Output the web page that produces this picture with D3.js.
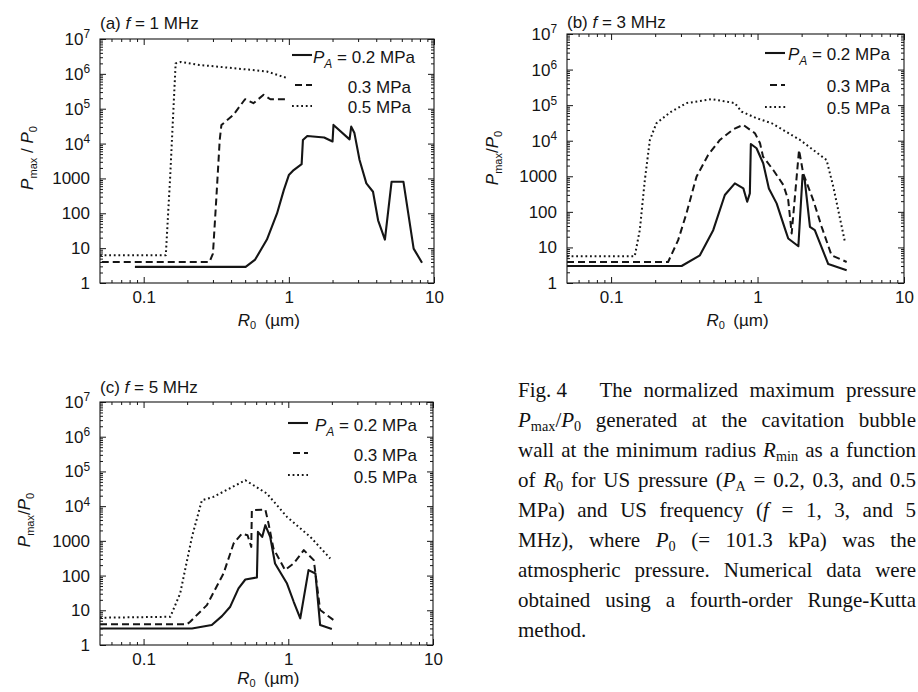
<!DOCTYPE html>
<html>
<head>
<meta charset="utf-8">
<script src="https://cdn.jsdelivr.net/npm/d3@7"></script>
<style>
  html, body { margin: 0; padding: 0; background: #fff; }
  svg { display: block; }
</style>
</head>
<body>
<svg id="fig" width="918" height="692"></svg>
<script>
// ---- data ---------------------------------------------------------------
const xTickValues = [0.1, 1, 10];
const yTickValues = [1, 10, 100, 1000, 1e4, 1e5, 1e6, 1e7];
const pressureLabels = ["0.2 MPa", "0.3 MPa", "0.5 MPa"];
const frequencies = ["1", "3", "5"];
const panelLetters = ["a", "b", "c"];

// [R0 (µm), Pmax/P0] — f = 1 MHz
const f1_pa02 = [[0.087,2.9],[0.504,2.9],[0.586,4.7],[0.706,17.6],[0.829,99],[0.923,463],[1.0,1250],[1.08,1740],[1.225,2580],[1.25,12600],[1.34,16500],[1.75,15000],[2.0,11500],[2.03,34300],[2.62,13200],[2.69,30700],[2.83,20000],[3.07,3370],[3.42,720],[3.8,415],[4.12,63],[4.59,17.6],[5.1,800],[6.16,800],[7.24,9.7],[8.27,3.8]];
const f1_pa03 = [[0.0514,4.0],[0.284,4.0],[0.30,7],[0.316,239],[0.334,12700],[0.343,34000],[0.414,66000],[0.499,187000],[0.57,144000],[0.67,250000],[0.745,187000],[0.97,187000]];
const f1_pa05 = [[0.05,6.25],[0.142,6.25],[0.152,1000],[0.166,2.0e6],[0.18,2.2e6],[0.242,1.8e6],[0.414,1.46e6],[0.706,1.17e6],[0.97,7.6e5]];

// f = 3 MHz
const f3_pa02 = [[0.05,3.0],[0.303,3.0],[0.404,6.0],[0.498,30.5],[0.598,297],[0.70,630],[0.80,457],[0.85,192],[0.886,330],[0.90,8100],[0.984,6150],[1.093,2320],[1.195,456],[1.35,173],[1.55,30.5],[1.62,17.8],[1.9,10.8],[2.03,1090],[2.1,785],[2.28,38],[2.46,30.5],[3.04,3.4],[4.06,2.3]];
const f3_pa03 = [[0.05,3.9],[0.245,3.9],[0.287,16],[0.327,90],[0.383,975],[0.46,3990],[0.553,10500],[0.683,21000],[0.798,27900],[0.96,16200],[1.04,8500],[1.09,3570],[1.28,1500],[1.5,570],[1.62,215],[1.71,24.6],[1.92,5500],[2.05,1210],[2.4,215],[2.74,38],[3.2,6.0],[4.06,3.9]];
const f3_pa05 = [[0.05,5.65],[0.145,5.65],[0.157,30.5],[0.17,785],[0.184,10500],[0.204,31000],[0.252,62000],[0.327,114000],[0.485,147000],[0.7,114000],[0.777,66000],[0.984,43000],[1.25,31000],[1.95,10500],[2.96,2870],[3.29,510],[3.95,14.3]];

// f = 5 MHz
const f5_pa02 = [[0.05,3.0],[0.216,3.0],[0.296,3.76],[0.348,6.8],[0.397,12.7],[0.453,42.7],[0.505,77],[0.607,88],[0.617,1820],[0.66,1300],[0.694,2830],[0.75,1300],[0.81,223],[0.98,59],[1.09,17.6],[1.21,5.85],[1.38,144],[1.54,115],[1.66,3.76],[2.0,2.9]];
const f5_pa03 = [[0.05,3.93],[0.199,3.93],[0.21,4.7],[0.274,14.1],[0.357,115],[0.419,840],[0.478,1620],[0.523,1450],[0.555,670],[0.56,7600],[0.694,8000],[0.73,3170],[0.79,600],[0.95,144],[1.09,223],[1.28,540],[1.5,279],[1.66,10.2],[2.06,5.2]];
const f5_pa05 = [[0.05,6.1],[0.153,6.5],[0.179,30.6],[0.216,1300],[0.253,14800],[0.304,18500],[0.505,55700],[0.712,23000],[0.98,4900],[1.42,1300],[1.95,310]];

// caption: *x* = italic, _{x} = subscript, "|" joins words without a break
const captionLines = [
  "Fig.\u00a04\u2003 The normalized maximum pressure",
  "*P*_{max}/*P*_{0} generated at the cavitation bubble",
  "wall at the minimum radius *R*_{min} as a function",
  "of *R*_{0} for US pressure (*P*_{A} = 0.2, 0.3, and 0.5",
  "MPa) and US frequency (*f* = 1, 3, and 5",
  "MHz), where *P*_{0} (= 101.3 kPa) was the",
  "atmospheric pressure. Numerical data were",
  "obtained using a fourth-order Runge-Kutta",
  "method."
];

// ---- layout & styles ----------------------------------------------------
const SANS = "'Liberation Sans', Arial, sans-serif";
const SERIF = "'Liberation Serif', 'Times New Roman', serif";
const INK = "#151515";
const lineStyles = [
  { dash: null, width: 2.1 },
  { dash: "7,4", width: 2.0 },
  { dash: "1.8,2.8", width: 2.0 }
];

const panels = [
  { series: [f1_pa02, f1_pa03, f1_pa05], l: 100, r: 434, t: 39, b: 283,
    titleY: 29, ylab: { x: 27, y: 158, spaced: true }, xlabY: 326,
    leg: { solid: [292, 312], dash: [295, 312], dot: [292, 312], end: [415, 411, 411], lines: [55, 85, 106], base: [63, 93, 113] } },
  { series: [f3_pa02, f3_pa03, f3_pa05], l: 567, r: 904, t: 34, b: 283,
    titleY: 28, ylab: { x: 492, y: 158, spaced: false }, xlabY: 326,
    leg: { solid: [765, 785], dash: [770, 785], dot: [765, 787], end: [890, 890, 890], lines: [53, 85, 107], base: [60, 92, 114] } },
  { series: [f5_pa02, f5_pa03, f5_pa05], l: 100, r: 433, t: 402, b: 645,
    titleY: 393, ylab: { x: 24, y: 520, spaced: false }, xlabY: 684,
    leg: { solid: [288, 308], dash: [293, 308], dot: [288, 308], end: [417, 417, 417], lines: [423, 453, 475], base: [431, 461, 483] } }
];

const svg = d3.select("#fig");
svg.append("rect").attr("width", 918).attr("height", 692).attr("fill", "#fff");

// minor tick positions on log axes
function minorTicks(lo, hi) {
  const out = [];
  for (let e = Math.floor(Math.log10(lo)); e < Math.ceil(Math.log10(hi)); e++) {
    for (let m = 2; m <= 9; m++) {
      const v = m * Math.pow(10, e);
      if (v > lo * 1.0001 && v < hi * 0.9999) out.push(v);
    }
  }
  return out;
}

function styleAxis(sel) {
  sel.select(".domain").remove();
  sel.selectAll(".tick line").attr("stroke", INK).attr("stroke-width", 1);
  sel.attr("font-family", SANS).attr("font-size", 17).attr("fill", INK);
  sel.selectAll(".tick text").attr("fill", INK);
  return sel;
}

panels.forEach((p, i) => {
  const w = p.r - p.l, h = p.b - p.t;
  const g = svg.append("g").attr("transform", `translate(${p.l},${p.t})`);
  const x = d3.scaleLog().domain([0.05, 10]).range([0, w]);
  const y = d3.scaleLog().domain([1, 1e7]).range([h, 0]);

  // major ticks with labels (left & bottom), inward
  const left = g.append("g").call(
    d3.axisLeft(y).tickValues(yTickValues).tickSizeInner(-6).tickSizeOuter(0).tickPadding(10)
  );
  styleAxis(left);
  left.selectAll(".tick text").each(function (d) {
    const t = d3.select(this).text(null);
    const e = Math.round(Math.log10(d));
    if (e < 4) {
      t.text(String(d));
    } else {
      t.append("tspan").text("10");
      t.append("tspan").attr("dy", "-0.55em").attr("font-size", "0.7em").text(e);
    }
  });

  const bottom = g.append("g").attr("transform", `translate(0,${h})`).call(
    d3.axisBottom(x).tickValues(xTickValues).tickSizeInner(-6).tickSizeOuter(0).tickPadding(8)
      .tickFormat(d => String(d))
  );
  styleAxis(bottom);

  // mirrored major ticks on top & right
  styleAxis(g.append("g").call(
    d3.axisTop(x).tickValues(xTickValues).tickSizeInner(-6).tickSizeOuter(0).tickFormat("")));
  styleAxis(g.append("g").attr("transform", `translate(${w},0)`).call(
    d3.axisRight(y).tickValues(yTickValues).tickSizeInner(-6).tickSizeOuter(0).tickFormat("")));

  // minor ticks on all four sides
  const xm = minorTicks(0.05, 10), ym = minorTicks(1, 1e7);
  styleAxis(g.append("g").call(d3.axisLeft(y).tickValues(ym).tickSizeInner(-3).tickSizeOuter(0).tickFormat("")));
  styleAxis(g.append("g").attr("transform", `translate(${w},0)`).call(d3.axisRight(y).tickValues(ym).tickSizeInner(-3).tickSizeOuter(0).tickFormat("")));
  styleAxis(g.append("g").attr("transform", `translate(0,${h})`).call(d3.axisBottom(x).tickValues(xm).tickSizeInner(-3).tickSizeOuter(0).tickFormat("")));
  styleAxis(g.append("g").call(d3.axisTop(x).tickValues(xm).tickSizeInner(-3).tickSizeOuter(0).tickFormat("")));

  // frame
  g.append("rect").attr("width", w).attr("height", h)
    .attr("fill", "none").attr("stroke", INK).attr("stroke-width", 1.1);

  // curves
  const line = d3.line().x(d => x(d[0])).y(d => y(d[1]));
  p.series.forEach((s, k) => {
    g.append("path").datum(s).attr("d", line)
      .attr("fill", "none").attr("stroke", INK)
      .attr("stroke-width", lineStyles[k].width)
      .attr("stroke-dasharray", lineStyles[k].dash)
      .attr("stroke-linejoin", "round");
  });

  // legend
  const L = p.leg;
  const spans = [L.solid, L.dash, L.dot];
  spans.forEach((sp, k) => {
    svg.append("line").attr("x1", sp[0]).attr("x2", sp[1])
      .attr("y1", L.lines[k]).attr("y2", L.lines[k])
      .attr("stroke", INK).attr("stroke-width", lineStyles[k].width)
      .attr("stroke-dasharray", lineStyles[k].dash);
    const t = svg.append("text").attr("x", L.end[k]).attr("y", L.base[k])
      .attr("text-anchor", "end").attr("font-family", SANS).attr("font-size", 17).attr("fill", INK);
    if (k === 0) {
      t.append("tspan").attr("font-style", "italic").text("P");
      t.append("tspan").attr("font-style", "italic").attr("font-size", 12).attr("dy", 5).text("A");
      t.append("tspan").attr("dy", -5).text(" = " + pressureLabels[k]);
    } else {
      t.text(pressureLabels[k]);
    }
  });

  // panel title
  const title = svg.append("text").attr("x", p.l).attr("y", p.titleY)
    .attr("font-family", SANS).attr("font-size", 17).attr("fill", INK);
  title.append("tspan").text(`(${panelLetters[i]}) `);
  title.append("tspan").attr("font-style", "italic").text("f");
  title.append("tspan").text(` = ${frequencies[i]} MHz`);

  // y-axis label
  const yl = svg.append("text")
    .attr("transform", `translate(${p.ylab.x + 6},${p.ylab.y}) rotate(-90)`)
    .attr("text-anchor", "middle").attr("font-family", SANS).attr("font-size", 17).attr("fill", INK);
  yl.append("tspan").attr("font-style", "italic").text("P");
  yl.append("tspan").attr("font-size", 11).attr("dy", 4).text("max");
  yl.append("tspan").attr("dy", -4).text(p.ylab.spaced ? " / " : "/");
  yl.append("tspan").attr("font-style", "italic").text("P");
  yl.append("tspan").attr("font-size", 11).attr("dy", 4).text("0");

  // x-axis label
  const xl = svg.append("text").attr("x", p.l + x(1) - 20).attr("y", p.xlabY)
    .attr("text-anchor", "middle").attr("font-family", SANS).attr("font-size", 17).attr("fill", INK);
  xl.append("tspan").attr("font-style", "italic").text("R");
  xl.append("tspan").attr("font-size", 11).attr("dy", 3).text("0");
  xl.append("tspan").attr("dy", -3).text("\u2002(\u00b5m)");
});

// ---- caption (justified) ------------------------------------------------
const capLeft = 518, capRight = 916, capTop = 396.5, capStep = 30.1, capSize = 21;

function parseWord(word) {
  const segs = [];
  const re = /\*([^*]+)\*|_\{([^}]+)\}|([^*_]+)/g;
  let m;
  while ((m = re.exec(word)) !== null) {
    if (m[1] !== undefined) segs.push({ t: m[1], kind: "i" });
    else if (m[2] !== undefined) segs.push({ t: m[2], kind: "sub" });
    else segs.push({ t: m[3], kind: "n" });
  }
  return segs;
}

function drawWord(xPos, yPos, word) {
  const t = svg.append("text").attr("x", xPos).attr("y", yPos)
    .attr("font-family", SERIF).attr("font-size", capSize).attr("fill", "#111")
    .style("white-space", "pre");
  let lowered = false;
  parseWord(word).forEach(s => {
    const sp = t.append("tspan").text(s.t);
    if (s.kind === "i") sp.attr("font-style", "italic");
    if (s.kind === "sub") {
      sp.attr("font-size", capSize * 0.68);
      if (!lowered) { sp.attr("dy", 4); lowered = true; }
    } else if (lowered) {
      sp.attr("dy", -4); lowered = false;
    }
  });
  return t;
}

captionLines.forEach((ln, i) => {
  const yPos = capTop + i * capStep;
  const words = ln.split(" ");
  const nodes = words.map(wd => drawWord(0, yPos, wd));
  const widths = nodes.map(n => n.node().getComputedTextLength());
  const total = d3.sum(widths);
  const last = i === captionLines.length - 1;
  const gap = last || words.length < 2 ? capSize * 0.25 : (capRight - capLeft - total) / (words.length - 1);
  let cx = capLeft;
  nodes.forEach((n, k) => { n.attr("x", cx); cx += widths[k] + gap; });
});
</script>
</body>
</html>
